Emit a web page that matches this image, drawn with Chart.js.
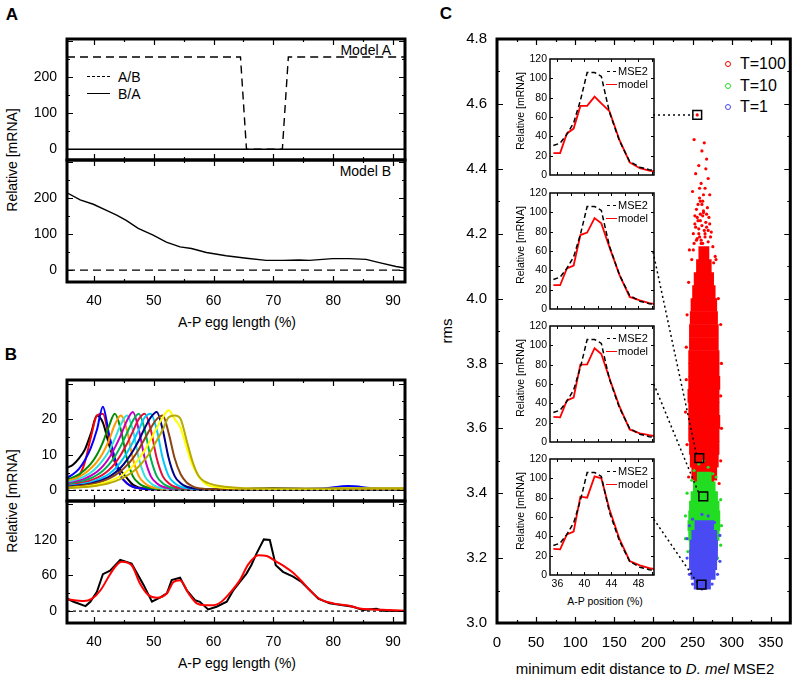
<!DOCTYPE html>
<html>
<head>
<meta charset="utf-8">
<script src="https://cdn.jsdelivr.net/npm/chart.js@4.4.1/dist/chart.umd.min.js"></script>
<style>
  body { margin: 0; background: #fff; }
  #fig { position: relative; width: 800px; height: 677px; overflow: hidden; background: #fff;
         font-family: 'Liberation Sans', Arial, sans-serif; color: #000; }
  #fig canvas { position: absolute; }
  .t { position: absolute; white-space: nowrap; line-height: 1; }
  .c { transform: translate(-50%, -50%); }
  .v { transform: translate(-50%, -50%) rotate(-90deg); }
  .l { transform: translateY(-50%); }
  .r { transform: translate(-100%, -50%); }
  .pl { font-weight: bold; font-size: 17px; }
  .sw { position: absolute; height: 0; }
  .dot { position: absolute; width: 4px; height: 4px; border-radius: 50%; border: 1.5px solid; transform: translate(-50%, -50%); }
</style>
</head>
<body>
<div id="fig">
  <div class="t c pl" style="left:12px;top:14px">A</div>
  <div class="t c pl" style="left:11px;top:354px">B</div>
  <div class="t c pl" style="left:446px;top:13px">C</div>

  <div class="t v" style="left:12px;top:160px;font-size:14px">Relative [mRNA]</div>
  <div class="t c" style="left:237px;top:322px;font-size:14px">A-P egg length (%)</div>
  <div class="t r" style="left:391px;top:50px;font-size:14px">Model A</div>
  <div class="t r" style="left:391px;top:171px;font-size:14px">Model B</div>
  <div class="sw" style="left:87px;top:76px;width:23px;border-top:1.5px dashed #000"></div>
  <div class="t l" style="left:118px;top:77px;font-size:14px">A/B</div>
  <div class="sw" style="left:87px;top:93px;width:23px;border-top:1.5px solid #000"></div>
  <div class="t l" style="left:118px;top:94px;font-size:14px">B/A</div>

  <div class="t v" style="left:12px;top:501px;font-size:14px">Relative [mRNA]</div>
  <div class="t c" style="left:237px;top:663px;font-size:14px">A-P egg length (%)</div>

  <div class="t v" style="left:446px;top:331px;font-size:15px">rms</div>
  <div class="t c" style="left:645px;top:668px;font-size:15px">minimum edit distance to <i>D. mel</i> MSE2</div>
  <div class="dot" style="left:728px;top:64px;border-color:#ff0000"></div>
  <div class="t l" style="left:740px;top:64px;font-size:16px">T=100</div>
  <div class="dot" style="left:728px;top:86px;border-color:#22dd22"></div>
  <div class="t l" style="left:740px;top:86px;font-size:16px">T=10</div>
  <div class="dot" style="left:728px;top:107px;border-color:#4a4af5"></div>
  <div class="t l" style="left:740px;top:107px;font-size:16px">T=1</div>
  <div class="t c" style="left:605px;top:601px;font-size:10.5px">A-P position (%)</div>
</div>
<script>
Chart.defaults.font.family = "'Liberation Sans', Arial, sans-serif";
Chart.defaults.color = '#000';

// ---------- panel A ----------
const egTicks = [40, 50, 60, 70, 80, 90];
const aYTicks = [0, 100, 200];
const aTopABx = [35.5, 64.5, 65.5, 71.5, 72.5, 92];
const aTopABy = [256, 256, 0, 0, 256, 256];
const aTopBAx = [35.5, 92];
const aTopBAy = [0, 0];
const aBotBAx = [35.5, 37.7, 39.9, 42.1, 43.8, 45.4, 47.4, 49.9, 52.1, 54.4, 56.3, 58.8, 62.1, 65.5, 68.8, 71.6, 74.3, 76, 79.9, 82.7, 85.5, 87.7, 90.5, 92];
const aBotBAy = [215, 195, 183, 166, 153, 138, 116, 97, 78, 64.5, 60, 49, 40, 33, 27, 27, 28, 27, 32, 32, 30, 21, 10, 6];
const aBotABx = [35.5, 92];
const aBotABy = [0, 0];

// ---------- panel B ----------
const bTopYTicks = [0, 10, 20];
const bBotYTicks = [0, 60, 120];
const bX = [35.5, 36.5, 37.5, 38.5, 39.5, 40.5, 41.5, 42.5, 43.5, 44.5, 45.5, 46.5, 47.5, 48.5, 49.5, 50.5,
            51.5, 52.5, 53.5, 54.5, 55.5, 56.5, 57.5, 58.5, 59.5, 61, 65, 70, 78, 82.5, 87, 92];
const bBlack   = [6.3, 7.2, 9, 11.5, 16, 21, 19, 13, 8, 5.5, 3.5, 1.6, 0.8, 0.5, 0.4, 0.3, 0.3, 0.3, 0.3, 0.3, 0.3, 0.3, 0.3, 0.3, 0.3, 0.3, 0.4, 0.6, 0.3, 0.3, 0.2, 0.2];
const bRed     = [2, 2.6, 4, 8, 15, 21, 21.5, 15, 8, 4, 2, 1, 0.6, 0.4, 0.3, 0.3, 0.3, 0.3, 0.3, 0.3, 0.3, 0.3, 0.3, 0.3, 0.3, 0.3, 0.3, 0.3, 0.3, 0.3, 0.3, 0.3];
const bBlue    = [3.5, 4.5, 6, 8.5, 12, 17, 23.5, 16, 9, 4, 2, 1, 0.6, 0.4, 0.3, 0.3, 0.3, 0.3, 0.3, 0.3, 0.3, 0.3, 0.3, 0.3, 0.3, 0.3, 0.3, 0.4, 0.5, 1.2, 0.6, 0.5];
const bDkGreen = [3, 3.6, 4.5, 5.8, 7.5, 10, 13.5, 18, 21.5, 17, 9, 4, 2, 1, 0.6, 0.4, 0.3, 0.3, 0.3, 0.3, 0.3, 0.3, 0.3, 0.3, 0.3, 0.3, 0.3, 0.3, 0.3, 0.3, 0.3, 0.3];
const bOrange  = [2.6, 3.1, 3.8, 4.8, 6.2, 8, 10.5, 14, 18.5, 21, 17, 9, 4, 2, 1, 0.6, 0.4, 0.3, 0.3, 0.3, 0.3, 0.3, 0.3, 0.3, 0.3, 0.3, 0.3, 0.3, 0.3, 0.3, 0.3, 0.3];
const bTurq    = [2.2, 2.6, 3.2, 4, 5, 6.5, 8.5, 11, 14.5, 18.5, 21, 17, 9, 4, 2, 1, 0.6, 0.4, 0.3, 0.3, 0.3, 0.3, 0.3, 0.3, 0.3, 0.3, 0.3, 0.3, 0.3, 0.3, 0.3, 0.3];
const bMagenta = [1.9, 2.2, 2.7, 3.3, 4.1, 5.2, 6.8, 9, 12, 15.5, 19.5, 22, 17, 9, 4, 2, 1, 0.6, 0.4, 0.3, 0.3, 0.3, 0.3, 0.3, 0.3, 0.3, 0.3, 0.3, 0.3, 0.3, 0.3, 0.3];
const bGreen   = [1.6, 1.9, 2.3, 2.8, 3.4, 4.3, 5.5, 7.2, 9.5, 12.5, 16, 19.5, 21.5, 17, 9, 4, 2, 1, 0.6, 0.4, 0.3, 0.3, 0.3, 0.3, 0.3, 0.3, 0.3, 0.3, 0.3, 0.3, 0.3, 0.3];
const bCrimson = [1.4, 1.6, 1.9, 2.3, 2.8, 3.5, 4.4, 5.7, 7.5, 10, 13, 16.5, 20, 21.5, 17, 9, 4, 2, 1, 0.6, 0.4, 0.3, 0.3, 0.3, 0.3, 0.3, 0.3, 0.3, 0.3, 0.3, 0.3, 0.3];
const bCyan    = [1.2, 1.4, 1.6, 1.9, 2.3, 2.9, 3.6, 4.6, 6, 8, 10.5, 13.5, 17, 20.5, 21.5, 17, 9, 4, 2, 1, 0.6, 0.4, 0.3, 0.3, 0.3, 0.3, 0.3, 0.3, 0.3, 0.3, 0.3, 0.3];
const bNavy    = [1, 1.2, 1.4, 1.6, 1.9, 2.4, 3, 3.8, 4.9, 6.4, 8.5, 11, 14, 17.5, 20.5, 22, 17, 9, 4, 2, 1, 0.6, 0.4, 0.3, 0.3, 0.3, 0.3, 0.3, 0.3, 0.3, 0.3, 0.3];
const bBrown   = [0.9, 1, 1.2, 1.4, 1.7, 2.1, 2.6, 3.3, 4.2, 5.4, 7, 9, 11.5, 14.5, 17.5, 20, 21, 16, 9, 4.5, 2.2, 1.1, 0.6, 0.4, 0.3, 0.3, 0.3, 0.3, 0.3, 0.3, 0.3, 0.3];
const bYellow  = [0.7, 0.8, 0.9, 1.1, 1.3, 1.6, 2, 2.5, 3.2, 4.1, 5.3, 6.8, 8.8, 11.3, 14.3, 17.5, 20.5, 22.5, 20, 17.5, 12, 7, 4, 2, 1.2, 0.8, 0.5, 0.4, 0.4, 0.5, 0.5, 0.5];
const bOlive   = [0.6, 0.7, 0.8, 0.9, 1.1, 1.3, 1.6, 2, 2.5, 3.2, 4.1, 5.2, 6.7, 8.6, 11, 14, 17, 20.5, 21, 20, 14, 8, 4, 2.5, 1.8, 1.2, 0.6, 0.5, 0.5, 0.6, 0.6, 0.6];
const bCurves = [bBlack, bRed, bBlue, bDkGreen, bOrange, bTurq, bMagenta, bGreen, bCrimson, bCyan, bNavy, bBrown, bYellow, bOlive];
const bColors = ['#000000', '#ff0000', '#0000ff', '#008c00', '#ff9900', '#33e0e0', '#c000c0', '#00b050', '#e0103c', '#00c8ff', '#000088', '#8b4513', '#ffff00', '#b8aa00'];

const bBotBlackX = [35.5, 36.6, 38.6, 39.4, 40.5, 41.5, 42.7, 44.4, 46.3, 48.3, 49.7, 51.1, 52.2, 53, 54.4, 55.5, 56.9, 57.7, 59.1, 60.5, 62.2, 63.3, 64.4, 65.5, 66.3, 67.2, 68.4, 69.4, 70.4, 71.6, 73.3, 74.7, 76.1, 77.5, 79.4, 81.6, 83.3, 85, 87.2, 88.3, 92];
const bBotBlackY = [21, 15.7, 8.4, 15.7, 32.5, 62, 68, 86, 80, 44, 15.7, 23, 30, 52, 56, 35, 18.5, 15.7, 2.8, 7.3, 15.7, 35, 49, 63, 77, 97, 120.5, 119.5, 77, 66, 58, 49, 35, 21, 13, 10, 7.3, 1.7, 4, 0.5, 0];
const bBotRedX = [35.5, 38.3, 39.7, 41.1, 42.7, 43.6, 44.6, 46.3, 47.7, 49.1, 50.5, 52.2, 53.3, 54.4, 55.8, 57.2, 58.6, 60, 61.3, 62.7, 64.4, 65.8, 67.5, 68.9, 70.5, 71.9, 73.3, 74.7, 76.1, 77.8, 80, 82.7, 84.4, 86.6, 89.4, 92];
const bBotRedY = [20, 17, 21, 35, 62, 75, 83, 77, 46.5, 27, 22.4, 30, 49, 52, 30, 13, 10, 10, 15.7, 30, 52, 78.5, 94, 92.5, 83, 74.6, 64.5, 50.5, 35, 20, 13, 9, 4.5, 2.8, 1.7, 0.5];

// ---------- panel C ----------
const cXTicks = [0, 50, 100, 150, 200, 250, 300, 350];
const cYTicks = [3.0, 3.2, 3.4, 3.6, 3.8, 4.0, 4.2, 4.4, 4.6, 4.8];
// dense core of each cloud, as rows: rms value and the edit-distance span it covers
const redRowY  = [3.42, 3.46, 3.50, 3.54, 3.58, 3.62, 3.66, 3.70, 3.74, 3.78, 3.82, 3.86, 3.90, 3.94, 3.98, 4.02, 4.06, 4.10, 4.14];
const redLeft  = [253, 249, 247, 246, 245, 245, 245, 244, 245, 245, 245, 246, 246, 247, 248, 250, 252, 255, 258];
const redRight = [277, 281, 283, 284, 284, 285, 284, 284, 285, 284, 284, 283, 283, 282, 281, 279, 277, 274, 271];
const greenRowY  = [3.21, 3.24, 3.27, 3.30, 3.33, 3.36, 3.39, 3.42, 3.45];
const greenLeft  = [250, 246, 245, 244, 245, 246, 248, 251, 256];
const greenRight = [278, 282, 284, 285, 285, 284, 282, 279, 274];
const blueRowY  = [3.12, 3.15, 3.18, 3.21, 3.24, 3.27, 3.30];
const blueLeft  = [252, 248, 246, 246, 247, 249, 253];
const blueRight = [273, 279, 281, 282, 282, 281, 277];
// scattered single runs outside the core
const redDotX = [256, 265, 252, 262, 268, 258, 254, 270, 261, 266, 250, 272, 259, 263, 257, 269, 255, 264, 271, 253, 260, 267, 262, 258, 274, 251, 266, 256, 270, 261, 263, 259, 267, 264, 262, 256, 268, 260, 265, 253,
                 252, 276, 255, 273, 258, 270, 261, 266, 249, 279, 251, 277, 254, 272, 257, 268, 260, 264, 263, 259,
                 246, 280, 245, 283, 243, 286, 242, 287, 242, 286, 241, 287, 243, 286, 245, 284, 250, 278, 262, 256, 270, 266];
const redDotY = [4.566, 4.48, 4.49, 4.455, 4.43, 4.41, 4.385, 4.37, 4.355, 4.34, 4.33, 4.32, 4.31, 4.30, 4.29, 4.28, 4.275, 4.265, 4.25, 4.255, 4.24, 4.235, 4.225, 4.215, 4.205, 4.2, 4.19, 4.185, 4.175, 4.17, 4.255, 4.34, 4.4, 4.32, 4.29, 4.25, 4.26, 4.3, 4.21, 4.23,
                 4.17, 4.16, 4.18, 4.19, 4.2, 4.21, 4.18, 4.2, 4.12, 4.13, 4.15, 4.11, 4.22, 4.23, 4.24, 4.22, 4.26, 4.27, 4.17, 4.19,
                 4.15, 4.12, 4.05, 4.0, 3.95, 3.92, 3.85, 3.8, 3.75, 3.7, 3.65, 3.6, 3.55, 3.5, 3.45, 3.43, 3.38, 3.37, 3.36, 3.35, 3.38, 3.34];
const greenDotX = [258, 270, 264, 252, 276, 249, 280, 266, 260, 243, 286, 241, 287, 241, 286, 244, 282, 250, 276, 262];
const greenDotY = [3.49, 3.48, 3.5, 3.47, 3.46, 3.44, 3.45, 3.46, 3.44, 3.4, 3.38, 3.33, 3.3, 3.26, 3.24, 3.22, 3.2, 3.19, 3.185, 3.19];
const blueDotX = [250, 270, 262, 278, 246, 243, 285, 243, 285, 246, 282, 250, 275, 262, 255, 269];
const blueDotY = [3.32, 3.33, 3.335, 3.31, 3.3, 3.26, 3.27, 3.2, 3.19, 3.15, 3.15, 3.12, 3.12, 3.105, 3.11, 3.11];
const pickX = [256, 258.6, 263.7, 261.5];
const pickY = [4.566, 3.508, 3.39, 3.118];
const linkFromX = [199.5, 199.5, 200.4, 200.4];
const linkFromY = [4.566, 4.144, 3.737, 3.32];
const linkToX = [251, 255, 258, 257.4];
const linkToY = [4.566, 3.52, 3.40, 3.12];

// ---------- insets ----------
const insetXTicks = [36, 40, 44, 48];
const insetYTicks = [0, 20, 40, 60, 80, 100, 120];
const insetX = [35.4, 36.4, 37.4, 38.4, 39.4, 40.4, 41.5, 42.5, 43.7, 45.2, 46.7, 48.2, 49.6, 50.5];
const mse2   = [30.5, 33, 42, 54, 77, 106, 106, 102, 65, 35, 14, 8, 5.5, 4.5];
const model1 = [22.6, 22.6, 43, 48, 71.5, 71.5, 81, 74, 66, 36, 13, 7, 4.5, 3.5];
const model2 = [24.6, 24.6, 42, 45, 76.5, 79, 94, 88.6, 64, 35, 12.5, 9, 6, 5];
const model3 = [26, 25.5, 43, 46, 80, 80.3, 97, 91, 66, 36.5, 13, 9, 7, 6];
const model4 = [27, 26.5, 42, 45, 81, 80, 102, 100, 68, 37, 14.5, 10, 7, 6];
const insetTops = [59, 193, 326, 459];

const pts = (xs, ys) => xs.map((x, i) => ({ x, y: ys[i] }));
const rows = (ys, ls, rs) => ys.map((y, i) => ({ y, x: [ls[i], rs[i]] }));

function stepVals(min, max, step) {
  const out = [];
  for (let k = Math.ceil(min / step - 1e-6); k * step <= max + 1e-6; k++) out.push(k * step);
  return out;
}

// gnuplot-like frame: thick border and inward ticks on all four sides
const framePlugin = {
  id: 'frame',
  afterDatasetsDraw(chart, args, o) {
    const { ctx, chartArea: a, scales } = chart;
    const sx = scales.x, sy = scales.y;
    ctx.save();
    ctx.strokeStyle = '#000';
    ctx.lineWidth = o.tw;
    ctx.beginPath();
    const tick = (vals, len, horiz) => vals.forEach(v => {
      if (horiz) {
        const p = Math.round(sx.getPixelForValue(v)) + 0.5;
        if (p <= a.left + 1 || p >= a.right - 1) return;
        ctx.moveTo(p, a.bottom); ctx.lineTo(p, a.bottom - len);
        ctx.moveTo(p, a.top); ctx.lineTo(p, a.top + len);
      } else {
        const p = Math.round(sy.getPixelForValue(v)) + 0.5;
        if (p <= a.top + 1 || p >= a.bottom - 1) return;
        ctx.moveTo(a.left, p); ctx.lineTo(a.left + len, p);
        ctx.moveTo(a.right, p); ctx.lineTo(a.right - len, p);
      }
    });
    if (o.xMinor) tick(stepVals(sx.min, sx.max, o.xMinor), o.minor, true);
    if (o.yMinor) tick(stepVals(sy.min, sy.max, o.yMinor), o.minor, false);
    tick(stepVals(sx.min, sx.max, o.xMajor), o.major, true);
    tick(stepVals(sy.min, sy.max, o.yMajor), o.major, false);
    ctx.stroke();
    ctx.lineWidth = o.lw;
    ctx.strokeRect(a.left, a.top, a.right - a.left, a.bottom - a.top);
    ctx.restore();
  }
};

function axis(a, size, horiz) {
  return {
    type: 'linear', min: a.min, max: a.max, offset: false, beginAtZero: false,
    grid: { display: false, drawTicks: false, offset: false },
    border: { display: false },
    ticks: {
      display: !!a.ticks, font: { size: a.font }, padding: a.pad,
      maxRotation: 0, autoSkip: false,
      callback: a.fmt || (v => String(v))
    },
    afterBuildTicks: s => { s.ticks = (a.ticks || []).map(v => ({ value: v })); },
    afterFit: s => {
      if (horiz) s.height = size; else s.width = size;
      // keep the plot box exactly where it is asked to be
      s.paddingTop = s.paddingBottom = s.paddingLeft = s.paddingRight = 0;
    }
  };
}

// area = plot box on the page [left, top, right, bottom]; pad = room round it [l, t, r, b]
function makePlot(area, pad, o) {
  const [l, t, r, b] = area;
  const [pl, pt, pr, pb] = pad;
  const cv = document.createElement('canvas');
  cv.width = r - l + pl + pr;
  cv.height = b - t + pt + pb;
  cv.style.left = (l - pl) + 'px';
  cv.style.top = (t - pt) + 'px';
  document.getElementById('fig').appendChild(cv);
  return new Chart(cv, {
    type: 'scatter',
    data: { datasets: o.datasets },
    options: {
      responsive: false, animation: false, events: [],
      layout: { padding: { left: 0, top: pt, right: pr, bottom: 0 } },
      plugins: { legend: { display: false }, tooltip: { enabled: false }, frame: o.frame },
      scales: { x: axis(o.x, pb, true), y: axis(o.y, pl, false) }
    },
    plugins: [framePlugin]
  });
}

function line(data, color, width, dash, extra) {
  return Object.assign({ data, showLine: true, pointRadius: 0, borderColor: color, borderWidth: width,
                         borderDash: dash || [], fill: false, tension: 0 }, extra || {});
}

const egAxisTop = { min: 35.5, max: 92, font: 14 };
const egAxisBot = { min: 35.5, max: 92, ticks: egTicks, font: 14, pad: 11 };
const frameAB = (yMajor, yMinor) => ({ lw: 3, tw: 1.2, major: 6, minor: 3, xMajor: 10, xMinor: 5, yMajor, yMinor });

// panel A
makePlot([67, 39, 405, 160], [60, 8, 8, 4], {
  x: egAxisTop,
  y: { min: -30, max: 306, ticks: aYTicks, font: 14, pad: 10 },
  frame: frameAB(100, 50),
  datasets: [
    line(pts(aTopABx, aTopABy), '#000', 1.4, [8, 5]),
    line(pts(aTopBAx, aTopBAy), '#000', 1.4)
  ]
});
makePlot([67, 160, 405, 282], [60, 4, 8, 24], {
  x: egAxisBot,
  y: { min: -33, max: 306, ticks: aYTicks, font: 14, pad: 10 },
  frame: frameAB(100, 50),
  datasets: [
    line(pts(aBotABx, aBotABy), '#000', 1.4, [8, 5]),
    line(pts(aBotBAx, aBotBAy), '#000', 1.4)
  ]
});

// panel B
makePlot([67, 380, 405, 501], [60, 8, 8, 4], {
  x: egAxisTop,
  y: { min: -3, max: 31, ticks: bTopYTicks, font: 14, pad: 10 },
  frame: frameAB(10, 5),
  datasets: [line(pts([35.5, 92], [0, 0]), '#000', 1.2, [3, 3], { order: 0 })].concat(
    bCurves.map((ys, i) => line(pts(bX, ys), bColors[i], 2, null,
      { cubicInterpolationMode: 'monotone', order: bCurves.length - i })))
});
makePlot([67, 501, 405, 623], [60, 4, 8, 24], {
  x: egAxisBot,
  y: { min: -20, max: 185, ticks: bBotYTicks, font: 14, pad: 10 },
  frame: frameAB(60, 30),
  datasets: [
    line(pts(bBotRedX, bBotRedY), '#ff0000', 2, null, { cubicInterpolationMode: 'monotone' }),
    line(pts(bBotBlackX, bBotBlackY), '#000', 2),
    line(pts([35.5, 92], [0, 0]), '#000', 1.2, [3, 3])
  ]
});

// panel C
const cloud = (data, color, thick, order) => ({
  type: 'bar', indexAxis: 'y', data, backgroundColor: color, borderWidth: 0,
  barThickness: thick, grouped: false, order
});
const dots = (data, color, order) => ({
  data, pointRadius: 1.6, pointBackgroundColor: color, pointBorderWidth: 0, order
});
makePlot([497, 39, 793, 623], [52, 10, 5, 30], {
  x: { min: 0, max: 375, ticks: cXTicks, font: 15, pad: 11 },
  y: { min: 3.0, max: 4.8, ticks: cYTicks, font: 15, pad: 10, fmt: v => v.toFixed(1) },
  frame: { lw: 3, tw: 1.2, major: 6, minor: 3, xMajor: 50, xMinor: 25, yMajor: 0.2, yMinor: 0.1 },
  datasets: [
    { data: pts(pickX, pickY), pointStyle: 'rect', pointRadius: 6.2, pointBorderColor: '#000',
      pointBorderWidth: 1.5, pointBackgroundColor: 'rgba(0,0,0,0)', order: 0 },
    ...linkFromX.map((x, i) => line([{ x, y: linkFromY[i] }, { x: linkToX[i], y: linkToY[i] }], '#000', 1.5, [2, 3], { order: 1 })),
    dots(pts(blueDotX, blueDotY), '#4a4af5', 2),
    cloud(rows(blueRowY, blueLeft, blueRight), '#4a4af5', 10, 3),
    dots(pts(greenDotX, greenDotY), '#22dd22', 4),
    cloud(rows(greenRowY, greenLeft, greenRight), '#22dd22', 10, 5),
    dots(pts(redDotX, redDotY), '#ff0000', 6),
    cloud(rows(redRowY, redLeft, redRight), '#ff0000', 13, 7)
  ]
});

// insets
const models = [model1, model2, model3, model4];
insetTops.forEach((t, k) => {
  const last = k === insetTops.length - 1;
  makePlot([550, t, 654, t + 116], [32, 7, 4, last ? 18 : 7], {
    x: last ? { min: 34.9, max: 50.3, ticks: insetXTicks, font: 10.5, pad: 3 } : { min: 34.9, max: 50.3 },
    y: { min: 0, max: 120, ticks: insetYTicks, font: 10.5, pad: 3 },
    frame: { lw: 1.5, tw: 1, major: 3, minor: 3, xMajor: 2, yMajor: 20 },
    datasets: [
      line(pts(insetX, mse2), '#000', 1.5, [5, 3]),
      line(pts(insetX, models[k]), '#ff0000', 1.8)
    ]
  });
  const fig = document.getElementById('fig');
  fig.insertAdjacentHTML('beforeend',
    `<div class="t v" style="left:520px;top:${t + 52}px;font-size:10.5px">Relative [mRNA]</div>` +
    `<div class="sw" style="left:607px;top:${t + 12}px;width:9px;border-top:1.5px dashed #000"></div>` +
    `<div class="t l" style="left:618px;top:${t + 12}px;font-size:11px">MSE2</div>` +
    `<div class="sw" style="left:606px;top:${t + 25}px;width:11px;border-top:1.8px solid #ff0000"></div>` +
    `<div class="t l" style="left:618px;top:${t + 25}px;font-size:11px">model</div>`);
});
</script>
</body>
</html>
